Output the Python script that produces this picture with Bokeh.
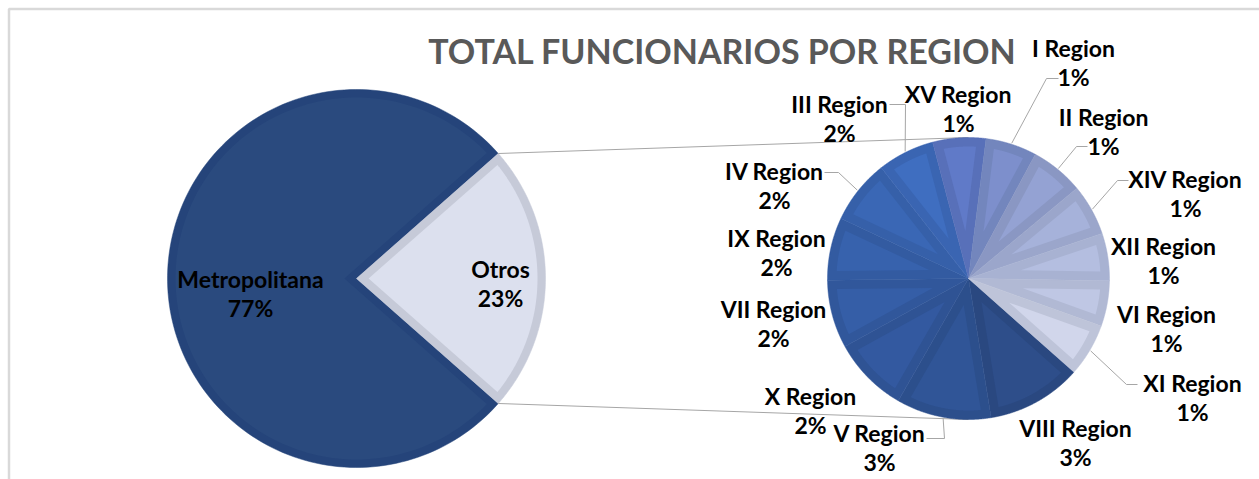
import numpy as np
from bokeh.plotting import figure
from bokeh.models import Range1d, ColumnDataSource
from bokeh.core.properties import value
from bokeh.embed import file_html
from bokeh.resources import INLINE

# ---------------- data ----------------
title_text = "TOTAL FUNCIONARIOS POR REGION"
main_labels = ["Metropolitana", "Otros"]
main_values = [77.0, 23.0]

sub_labels = ["VIII Region", "V Region", "X Region", "VII Region", "IX Region",
              "IV Region", "III Region", "XV Region", "I Region", "II Region",
              "XIV Region", "XII Region", "VI Region", "XI Region"]
sub_values = [2.5, 2.5, 2.0, 1.8, 1.65, 1.7, 1.5, 1.4, 1.35, 1.4, 1.35, 1.25, 1.2, 1.4]

# ---------------- style ----------------
main_fill = ["#2A4A7E", "#DCE0EE"]
main_band = ["#25447A", "#C6CAD8"]
sub_fill = ["#2E4E8A", "#305597", "#3359A0", "#355EA7", "#3762AD", "#3A67B5", "#3F6EC0",
            "#607AC8", "#7D8FCC", "#94A2D3", "#A6B2DA", "#B4BEE0", "#BFC7E4", "#D1D6EB"]
sub_band = ["#2A4880", "#2C4F8C", "#2F5394", "#31579B", "#335BA1", "#3660A9", "#3A65B2",
            "#5870B9", "#7386BD", "#8A97C3", "#9BA6CB", "#A8B2D2", "#B1B9D4", "#BEC4D9"]

W, H = 1259, 479
C1 = (356.0, 278.0); R1 = 189.0; BAND1 = 8.0
C2 = (968.0, 278.0); R2 = 141.0; BAND2 = 9.0
SUB_START = 131.6  # degrees clockwise from top

FONT = "Lato"
LBL_SIZE = "23px"
LINE_GAP = 29

# label layout: center x, y of first line
label_pos = {
    "Metropolitana": (250, 278), "Otros": (500, 268),
    "I Region": (1073, 47), "XV Region": (958, 93), "III Region": (839, 103),
    "II Region": (1103, 116), "XIV Region": (1185, 178), "IV Region": (774, 170),
    "IX Region": (776, 237), "XII Region": (1163, 245), "VII Region": (773, 308),
    "VI Region": (1166, 313), "XI Region": (1192, 382), "X Region": (810, 395),
    "V Region": (879, 432), "VIII Region": (1075, 427),
}
# leader lines: elbow and end points (from the slice edge)
leaders = {
    "I Region": [(1046, 78), (1058, 78)],
    "II Region": [(1076, 146), (1087, 146)],
    "XIV Region": [(1117, 180), (1128, 180)],
    "XI Region": [(1126, 384), (1137, 384)],
    "III Region": [(905, 104), (889, 104)],
    "IV Region": [(838, 172), (824, 172)],
    "V Region": [(944, 438), (926, 438)],
}


def sector(cx, cy, r, a0, a1, n=160):
    t = np.radians(np.linspace(a0, a1, n))
    xs = np.concatenate([[cx], cx + r * np.sin(t)])
    ys = np.concatenate([[cy], cy - r * np.cos(t)])
    return xs, ys


def inset(cx, cy, r, a0, a1, d, n=160):
    h = np.radians((a1 - a0) / 2.0)
    mid = np.radians((a0 + a1) / 2.0)
    s = d / np.sin(h)
    vx, vy = cx + s * np.sin(mid), cy - s * np.cos(mid)
    rho = r - d
    da = np.degrees(np.arcsin(d / rho))
    t = np.radians(np.linspace(a0 + da, a1 - da, n))
    xs = np.concatenate([[vx], cx + rho * np.sin(t)])
    ys = np.concatenate([[vy], cy - rho * np.cos(t)])
    return xs, ys


def edge_point(cx, cy, r, a):
    a = np.radians(a)
    return cx + r * np.sin(a), cy - r * np.cos(a)


def pct_text(v):
    return f"{int(np.floor(v + 0.5))}%"


p = figure(width=W, height=H, x_range=Range1d(0, W), y_range=Range1d(H, 0),
           output_backend="svg", toolbar_location=None, min_border=0)
p.axis.visible = False
p.grid.visible = False
p.outline_line_color = None
p.background_fill_color = "white"
p.border_fill_color = "white"

# chart frame
p.quad(left=[8.5], right=[W + 10], top=[8.5], bottom=[H + 10], fill_color=None,
       line_color="#D9D9D9", line_width=2.5)

# ---------------- primary pie ----------------
tot = sum(main_values)
otros_span = 360.0 * main_values[1] / tot
o0, o1 = 90 - otros_span / 2, 90 + otros_span / 2
main_angles = [(o1, o0 + 360), (o0, o1)]
bx, by, ix, iy = [], [], [], []
for (a0, a1) in main_angles:
    x, y = sector(C1[0], C1[1], R1, a0, a1)
    bx.append(x); by.append(y)
    x, y = inset(C1[0], C1[1], R1, a0, a1, BAND1)
    ix.append(x); iy.append(y)
p.patches(xs=bx, ys=by, fill_color=main_band, line_color=main_band, line_width=0.5)
p.patches(xs=ix, ys=iy, fill_color=main_fill, line_color=None)

# connector lines
top_pt = edge_point(C1[0], C1[1], R1, o0)
bot_pt = edge_point(C1[0], C1[1], R1, o1)
p.segment(x0=[top_pt[0], bot_pt[0]], y0=[top_pt[1], bot_pt[1]],
          x1=[C2[0], C2[0]], y1=[C2[1] - R2, C2[1] + R2],
          line_color="#A6A6A6", line_width=1)

# ---------------- secondary pie ----------------
sub_tot = sum(sub_values)
cum = SUB_START
bx, by, ix, iy, mids = [], [], [], [], []
for v in sub_values:
    a0 = cum
    a1 = cum + 360.0 * v / sub_tot
    cum = a1
    x, y = sector(C2[0], C2[1], R2, a0, a1)
    bx.append(x); by.append(y)
    x, y = inset(C2[0], C2[1], R2, a0, a1, BAND2)
    ix.append(x); iy.append(y)
    mids.append((a0 + a1) / 2.0)
p.patches(xs=bx, ys=by, fill_color=sub_band, line_color=sub_band, line_width=0.5)
p.patches(xs=ix, ys=iy, fill_color=sub_fill, line_color=None)

# leader lines
lx, ly = [], []
for name, m in zip(sub_labels, mids):
    if name in leaders:
        sx, sy = edge_point(C2[0], C2[1], R2 + 1, m)
        pts = [(sx, sy)] + leaders[name]
        lx.append([q[0] for q in pts]); ly.append([q[1] for q in pts])
p.multi_line(xs=lx, ys=ly, line_color="#A6A6A6", line_width=1)

# ---------------- labels ----------------
names = main_labels + sub_labels
vals = [100.0 * v / tot for v in main_values] + list(sub_values)
tx = [label_pos[n][0] for n in names]
ty = [label_pos[n][1] for n in names]
src = ColumnDataSource(dict(x=tx, y=ty, y2=[t + LINE_GAP for t in ty],
                            name=names, pct=[pct_text(v) for v in vals]))
for col, ycol in (("name", "y"), ("pct", "y2")):
    p.text(x="x", y=ycol, text=col, source=src, text_font=value(FONT),
           text_font_style="bold", text_font_size=LBL_SIZE, text_color="#000000",
           text_align="center", text_baseline="middle")

# title
p.text(x=[722], y=[50], text=[title_text], text_font=value(FONT), text_font_style="bold",
       text_font_size="34px", text_color="#595959", text_align="center",
       text_baseline="middle")

open("out.html", "w").write(file_html(p, INLINE))
